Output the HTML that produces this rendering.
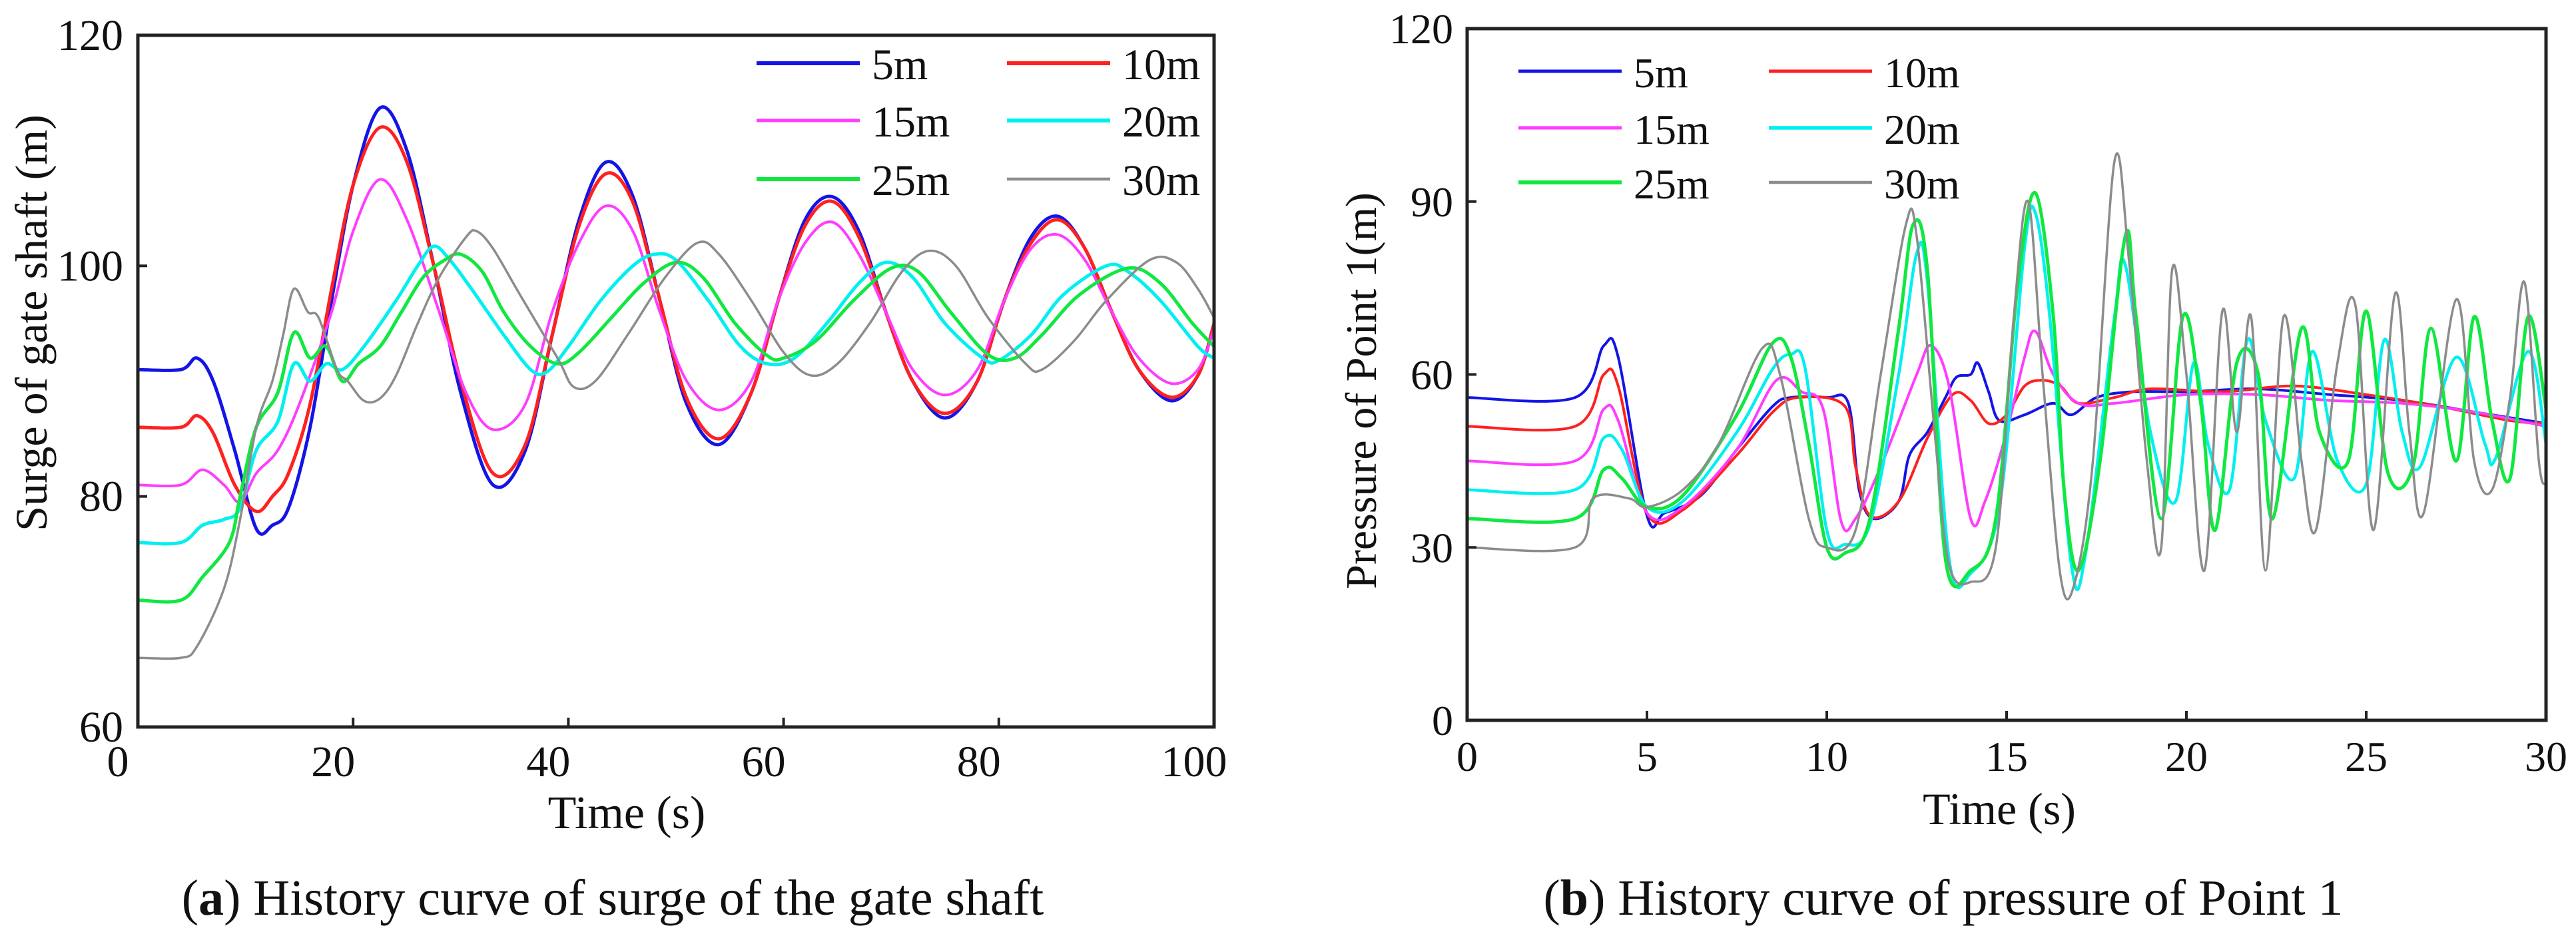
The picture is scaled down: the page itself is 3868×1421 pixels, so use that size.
<!DOCTYPE html>
<html><head><meta charset="utf-8">
<style>
html,body{margin:0;padding:0;background:#fff;}
svg{display:block;}
text{font-family:"Liberation Serif","Times New Roman",serif;fill:#111;}
</style></head>
<body>
<svg id="fig" width="3868" height="1421" viewBox="0 0 3868 1421" xmlns="http://www.w3.org/2000/svg">
<defs>
<clipPath id="clipA"><rect x="207" y="53" width="1616" height="1039"/></clipPath>
<clipPath id="clipB"><rect x="2203" y="43" width="1620" height="1039"/></clipPath>
</defs>
<g id="panelA"></g>
<g id="panelB"></g>
<text x="920" y="1374" font-size="76" text-anchor="middle">(<tspan font-weight="bold">a</tspan>) History curve of surge of the gate shaft</text>
<text x="2918" y="1374" font-size="76" text-anchor="middle">(<tspan font-weight="bold">b</tspan>) History curve of pressure of Point 1</text>
</svg>
<script>
// ---------- Data: panel (a) surge of gate shaft ----------
const aLabels = ["5m","10m","15m","20m","25m","30m"];
const aT5 = [0,4,5.5,7,9,11,12.5,14,16,18,20,22.5,25,27.5,30,33,36,38.5,41,43.5,46,48.5,51,54,57,59.5,62,64.5,67,69.5,72,75,78,80.5,83,85.5,88,90.5,93,96,98.5,100];
const aY5 = [91,91,92,90,84,77.2,77.5,79,86,97,107,113.7,110,100,89,81,84,94,104,109,106,97,88,84.5,89,97,104,106,103,96,90,86.8,90,97,102.5,104.3,101.5,96,91,88.3,90.5,95];
const aT10 = aT5;
const aY10 = [86,86,87,85.5,81,78.7,80,82,88,98,107,112,109,100,90,82,84.5,94,103.5,108,105.5,97,88.5,85,89,97,103.5,105.6,102.5,96,90,87.2,90,97,102,104,101.5,96,91,88.6,90.5,95];
const aT15 = [0,4,6,8,9.5,11,13,15,18,20,22.5,25,28,30.5,33,36,38.5,41,43.5,46,48.5,51,54,57,59.5,62,64.5,67,69.5,72,75,78,80.5,83,85.5,88,90.5,93,96,98.5,100];
const aY15 = [81,81,82.3,81,79.5,82,84,88,96,103,107.5,104,96,89,85.8,88,96,102,105.2,103,96,90,87.5,90,97,102,103.8,101,96,91,88.8,91,97,101.5,102.7,100.5,96,92,89.8,91,94.5];
const aT20 = [0,4,6,8,9.5,11,13,14.5,16,17.5,19,21,24,26,27.5,29,31,34,36.5,38,40,43,46,48,50,53,56,58.5,61,64,67,69.5,72,75,78.5,80,83,86,90,92,95,98.5,100];
const aY20 = [76,76,77.5,78,79,84,86.5,91.5,90,91.5,91,93,97,100,101.7,100.5,98,94,91,90.8,93,97,100,101,100.5,97,93,91.5,92,95,98.5,100.3,99,95,92,91.8,94,97.5,100,99.5,97,93,92];
const aT25 = [0,4,6,8.5,9.5,11,13,14.5,16,17.5,19,20.5,22.5,24.5,26.5,28.5,30,32,34,36.5,39,41,44,47,50,52.5,55.5,58.5,60,63,66.5,70,72.5,75.5,79,81.5,84,87.5,92,95,98,100];
const aY25 = [71,71,73,76,80,86,89,94.2,92,93,90,91.5,93,96,99,100.5,101,99.5,96,93,91.5,92.5,95.5,98.5,100.3,99,95,92.2,92,93.5,97,99.8,99.5,96,92.3,92,94,97.5,99.8,98.5,95,93];
const aT30 = [0,4,5.5,8,9.5,11,12.5,13.5,14.5,15.8,16.8,18.5,19.5,21,22.5,24,26,28,30.5,31.5,33,35.5,39,40.5,42.5,45.5,49,52,54,57,60,62.5,65,68,71,73.5,76,79,82.5,84,87,90,94,96.5,98.5,100];
const aY30 = [66,66,67,72,78,86,90,94,98,96,95.5,91,90,88.3,88.5,90.5,95,99,102.5,103,101.5,97.5,92,89.5,90,94,99,102,101,97,92.5,90.5,91.5,95,99.5,101.3,100,95.5,91.5,91,93.5,97,100.5,100.3,98,95.5];
const aXTicks = [0,20,40,60,80,100];
const aYTicks = [60,80,100,120];

// ---------- Data: panel (b) pressure of Point 1 ----------
const bT5 = [0,3,3.8,4.2,5,5.5,6.5,7.5,8.5,9,10,10.6,10.9,11.3,12,12.3,12.8,13.3,13.6,14,14.2,14.5,14.8,15.5,16.3,16.8,17.5,18.5,20,22,24,26,28,30];
const bY5 = [56,56,65,63,35.5,36,39,47,54.5,56,56,55,40,35,38,46,50,56,59.5,60,62,57,52,53,55,53,56,57,57,57.5,56.5,55.5,53.5,51.5];
const bT10 = [0,3,3.8,4.2,5,6,7.5,8.5,9.2,10.5,10.8,11.2,12,12.8,13.5,14,14.5,15,15.5,16,16.5,17,18,19,21,23,25,27,29,30];
const bY10 = [51,51,60,58,36,36.5,46,53.5,56,54.5,44,35.5,38,49,56.5,55.5,51.5,53,58,59,58,55,56,57.5,57,58,56.5,54.5,52,51.5];
const bT15 = [0,3,3.8,4.2,5,6,7.5,8.6,9.3,9.9,10.4,10.8,11.5,12.5,12.9,13.4,14,14.4,15,15.5,15.8,16.3,17,18,20,22,24,26,28,30];
const bY15 = [45,45,54,52,36,37,47,59,57,54,34.5,35,44,60,65,58,35,38,50,63,67.5,60,55,55,56.5,56.5,55.5,55,53.5,51];
const bT20 = [0,3,3.8,4.3,5,6,7.5,8.5,9,9.4,10,10.5,11.2,12,12.5,12.8,13.4,14,14.8,15.5,15.8,16.2,16.8,17.2,18,18.3,19,19.7,20.2,20.6,21.2,21.7,22.2,23,23.5,24.2,25,25.5,26,26.5,27.5,28.3,28.6,29.5,30];
const bY20 = [40,40,49,47,37,38,50,61,63.5,61,33,30.5,34,60,81,76,28,25.5,37,82,88,70,27,29,70,79,50,38,62,48,40,66,52,42,64,45,41,66,50,44,63,48,45.5,64,48];
const bT25 = [0,3,3.8,4.3,5,6,7.5,8.5,9,9.5,10,10.5,11.2,12,12.4,12.8,13.3,14,14.7,15.3,15.8,16.3,16.6,17,17.6,18.3,18.6,19.3,19.9,20.4,20.8,21.4,22,22.4,23.2,23.7,24.5,25,25.6,26.3,26.8,27.5,28,28.5,29,29.5,30];
const bY25 = [35,35,43.5,42,37,39,53,65.5,63,48,30,29,35,68,86,78,28,26,35,75,91.5,70,40,26,45,84,70,35,70,55,33,62,60,35,68,50,45,71,43,44,68,45,70,52,42,70,54];
const bT30 = [0,3,3.5,4.5,5,6,7,8.2,8.7,9.5,10,10.8,11.5,12.2,12.5,13,13.4,14,14.7,15.2,15.6,16,16.5,16.9,17.4,18,18.4,18.9,19.3,19.6,20,20.5,21,21.4,21.8,22.2,22.7,23.2,23.6,24.2,24.7,25.2,25.8,26.2,26.6,27.5,28,28.5,29,29.4,29.8,30];
const bY30 = [30,30,38.5,38.5,37,40,48,64.5,60,35,30,33,60,86,84,50,27,24,30,70,90,60,25,24,45,97,80,45,30,78,60,26,71,50,70,26,70,45,33,62,72,33,74,50,36,73,45,40,56,76,45,41];
const bXTicks = [0,5,10,15,20,25,30];
const bYTicks = [0,30,60,90,120];

const colors = ["#1414e6","#ff2020","#ff3cff","#00f0f0","#10e840","#8c8c8c"];
const NS = "http://www.w3.org/2000/svg";

function mk(parent, tag, attrs, txt){
  const e = document.createElementNS(NS, tag);
  for (const k in attrs) e.setAttribute(k, attrs[k]);
  if (txt !== undefined) e.textContent = txt;
  parent.appendChild(e);
  return e;
}
function smoothPath(pts){
  let d = "M" + pts[0][0].toFixed(1) + "," + pts[0][1].toFixed(1);
  for (let i=0;i<pts.length-1;i++){
    const p0 = pts[Math.max(0,i-1)], p1 = pts[i], p2 = pts[i+1], p3 = pts[Math.min(pts.length-1,i+2)];
    const c1x = p1[0] + (p2[0]-p0[0])/6, c1y = p1[1] + (p2[1]-p0[1])/6;
    const c2x = p2[0] - (p3[0]-p1[0])/6, c2y = p2[1] - (p3[1]-p1[1])/6;
    d += " C" + c1x.toFixed(1)+","+c1y.toFixed(1)+" "+c2x.toFixed(1)+","+c2y.toFixed(1)+" "+p2[0].toFixed(1)+","+p2[1].toFixed(1);
  }
  return d;
}

function drawPanel(cfg){
  const g = document.getElementById(cfg.id);
  const sx = v => cfg.x0 + (v - cfg.xmin)/(cfg.xmax - cfg.xmin)*(cfg.x1 - cfg.x0);
  const sy = v => cfg.y1 - (v - cfg.ymin)/(cfg.ymax - cfg.ymin)*(cfg.y1 - cfg.y0);
  const sg = mk(g, "g", {"clip-path":"url(#"+cfg.clip+")"});
  cfg.series.forEach((s, i) => {
    const pts = s.t.map((t,j)=>[sx(t), sy(s.y[j])]);
    const p = mk(sg, "path", {d: smoothPath(pts), fill:"none", stroke: colors[i], "stroke-width": s.w, "stroke-linejoin":"round", "stroke-linecap":"round"});
    
    
  });
  const fr = mk(g, "rect", {x:cfg.x0, y:cfg.y0, width:cfg.x1-cfg.x0, height:cfg.y1-cfg.y0, fill:"none", stroke:"#222", "stroke-width":5});
  
  
  cfg.xTicks.forEach(v => {
    const x = sx(v);
    const tk = mk(g, "line", {x1:x, x2:x, y1:cfg.y1, y2:cfg.y1-14, stroke:"#222", "stroke-width":4});
    
    
    const lb = mk(g, "text", {x:x - cfg.xLabShift, y:cfg.xLabY, "font-size":cfg.fs, "text-anchor":"middle"}, String(v));
    
    
  });
  cfg.yTicks.forEach(v => {
    const y = sy(v);
    const tk = mk(g, "line", {x1:cfg.x0, x2:cfg.x0+14, y1:y, y2:y, stroke:"#222", "stroke-width":4});
    
    
    const lb = mk(g, "text", {x:cfg.yLabX, y:y + 22, "font-size":cfg.fs, "text-anchor":"end"}, String(v));
    
    
  });
  const xt = mk(g, "text", {x:cfg.xTitleX, y:cfg.xTitleY, "font-size":cfg.fs+4, "text-anchor":"middle"}, "Time (s)");
  
  
  const yt = mk(g, "text", {x:0, y:0, "font-size":cfg.fs+2, "text-anchor":"middle", transform:"translate("+cfg.yTitleX+","+cfg.yTitleY+") rotate(-90)"}, cfg.yTitle);
  
  
  const lg = mk(g, "g", {});
  
  
  aLabels.forEach((lab, i) => {
    const col = i % 2, row = Math.floor(i/2);
    const lx = cfg.legX[col], ly = cfg.legY[row];
    const ln = mk(lg, "line", {x1:lx, x2:lx+cfg.legLen, y1:ly, y2:ly, stroke:colors[i], "stroke-width":cfg.series[i].w+1});
    
    
    const tx = mk(lg, "text", {x:lx+cfg.legLen+18, y:ly+24, "font-size":cfg.fs}, lab);
    
    
  });
}

drawPanel({
  id:"panelA", clip:"clipA",
  x0:207, x1:1823, y0:53, y1:1092, xmin:0, xmax:100, ymin:60, ymax:120,
  series:[{t:aT5,y:aY5,w:5},{t:aT10,y:aY10,w:5},{t:aT15,y:aY15,w:4},{t:aT20,y:aY20,w:5},{t:aT25,y:aY25,w:5},{t:aT30,y:aY30,w:3.5}],
  xTicks:aXTicks, yTicks:aYTicks, fs:66, xLabY:1166, xLabShift:30, yLabX:185,
  xTitleX:941, xTitleY:1244, yTitleX:70, yTitleY:485, yTitle:"Surge of gate shaft  (m)",
  legX:[1136,1512], legY:[95,181,269], legLen:155
});
drawPanel({
  id:"panelB", clip:"clipB",
  x0:2203, x1:3823, y0:43, y1:1082, xmin:0, xmax:30, ymin:0, ymax:120,
  series:[{t:bT5,y:bY5,w:4},{t:bT10,y:bY10,w:4},{t:bT15,y:bY15,w:4},{t:bT20,y:bY20,w:4.5},{t:bT25,y:bY25,w:5},{t:bT30,y:bY30,w:3.5}],
  xTicks:bXTicks, yTicks:bYTicks, fs:64, xLabY:1158, xLabShift:0, yLabX:2182,
  xTitleX:3002, xTitleY:1238, yTitleX:2066, yTitleY:587, yTitle:"Pressure of Point 1(m)",
  legX:[2280,2656], legY:[107,192,274], legLen:155
});
</script>
</body></html>
